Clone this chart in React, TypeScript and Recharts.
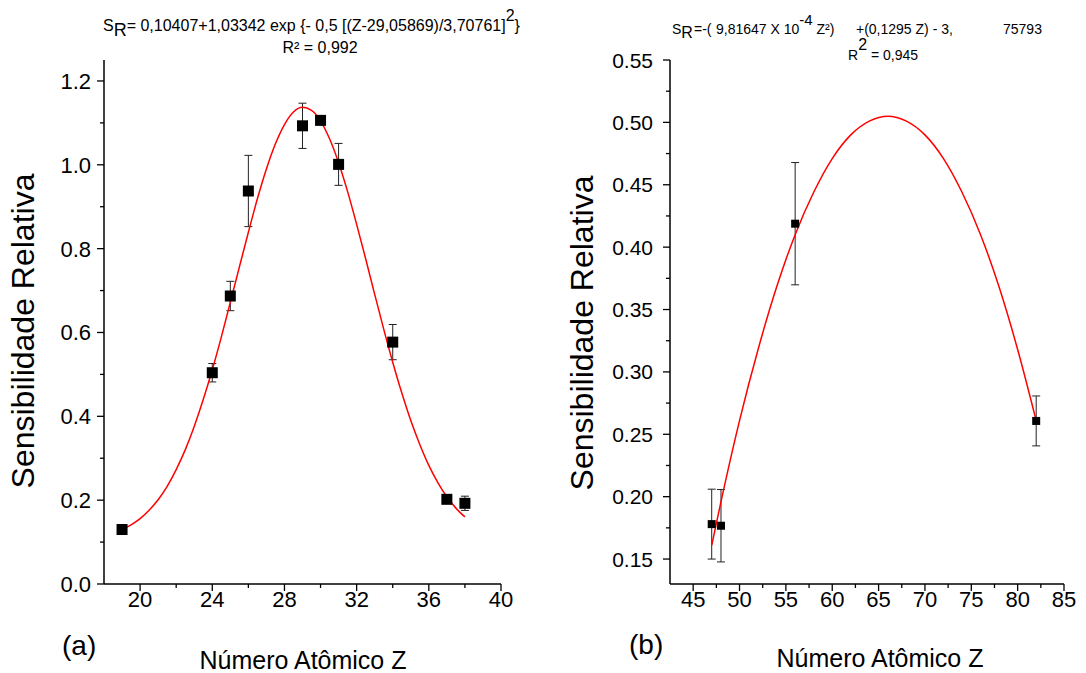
import { ComposedChart, Line, Scatter, ErrorBar, XAxis, YAxis } from "recharts"

// (a) measured points
const zA = [19, 24, 25, 26, 29, 30, 31, 34, 37, 38]
const srA = [0.13, 0.504, 0.687, 0.9375, 1.093, 1.106, 1.001, 0.577, 0.202, 0.1925]
const errA = [0.005, 0.022, 0.035, 0.085, 0.054, 0.01, 0.05, 0.042, 0.005, 0.017]

// (a) fitted gaussian
const fitZA = [19, 19.5, 20, 20.5, 21, 21.5, 22, 22.5, 23, 23.5, 24, 24.5, 25, 25.5, 26, 26.5, 27, 27.5, 28, 28.5, 29, 29.5, 30, 30.5, 31, 31.5, 32, 32.5, 33, 33.5, 34, 34.5, 35, 35.5, 36, 36.5, 37, 37.5, 38]
const fitSA = [0.13, 0.141, 0.156, 0.176, 0.201, 0.233, 0.273, 0.32, 0.376, 0.44, 0.511, 0.589, 0.672, 0.756, 0.839, 0.919, 0.99, 1.05, 1.096, 1.126, 1.137, 1.13, 1.105, 1.062, 1.005, 0.936, 0.858, 0.776, 0.691, 0.608, 0.529, 0.456, 0.39, 0.333, 0.283, 0.242, 0.208, 0.181, 0.16]

// (b) measured points
const zB = [47, 48, 56, 82]
const srB = [0.178, 0.1767, 0.4188, 0.2607]
const errB = [0.028, 0.029, 0.049, 0.02]

// (b) fitted parabola
const fitZB = [47, 48, 50, 52, 54, 56, 58, 60, 62, 64, 66, 68, 70, 72, 74, 76, 78, 80, 82]
const fitSB = [0.161, 0.196, 0.261, 0.318, 0.368, 0.41, 0.444, 0.471, 0.49, 0.501, 0.505, 0.501, 0.49, 0.471, 0.444, 0.41, 0.368, 0.318, 0.261]

// ticks
const xMajorA = [20, 24, 28, 32, 36, 40]
const xMinorA = [22, 26, 30, 34, 38]
const yMajorA = [0, 0.2, 0.4, 0.6, 0.8, 1.0, 1.2]
const yMinorA = [0.1, 0.3, 0.5, 0.7, 0.9, 1.1]
const xMajorB = [45, 50, 55, 60, 65, 70, 75, 80, 85]
const xMinorB = [47.5, 52.5, 57.5, 62.5, 67.5, 72.5, 77.5, 82.5]
const yMajorB = [0.15, 0.2, 0.25, 0.3, 0.35, 0.4, 0.45, 0.5, 0.55]
const yMinorB = [0.175, 0.225, 0.275, 0.325, 0.375, 0.425, 0.475, 0.525]

const FONT = '"Liberation Sans", Arial, sans-serif'

const pointsA = zA.map((z, i) => ({ z, s: srA[i], err: errA[i] }))
const curveA = fitZA.map((z, i) => ({ z, s: fitSA[i] }))
const pointsB = zB.map((z, i) => ({ z, s: srB[i], err: errB[i] }))
const curveB = fitZB.map((z, i) => ({ z, s: fitSB[i] }))

const bottomTick = (majors: number[], size: number) => (props: any) => {
  const { x, y, payload } = props
  const major = majors.includes(payload.value)
  return (
    <g>
      <line x1={x} x2={x} y1={y} y2={y + (major ? 7 : 4)} stroke="#000" strokeWidth={1.3} />
      {major && (
        <text x={x} y={y + 23} textAnchor="middle" fontSize={size} fill="#000" fontFamily={FONT}>
          {payload.value}
        </text>
      )}
    </g>
  )
}

const leftTick = (majors: number[], size: number, gap: number, digits: number) => (props: any) => {
  const { x, y, payload } = props
  const major = majors.includes(payload.value)
  return (
    <g>
      <line x1={x} x2={x - (major ? 7 : 4)} y1={y} y2={y} stroke="#000" strokeWidth={1.3} />
      {major && (
        <text x={x - gap} y={y} dy="0.36em" textAnchor="end" fontSize={size} fill="#000" fontFamily={FONT}>
          {payload.value.toFixed(digits)}
        </text>
      )}
    </g>
  )
}

const square = (half: number) => (p: any) => (
  <rect x={p.cx - half} y={p.cy - half} width={half * 2} height={half * 2} fill="#000" />
)

export default function App() {
  return (
    <div style={{ position: "absolute", left: 0, top: 0, width: 1086, height: 673, background: "#fff", fontFamily: FONT }}>
      <div style={{ position: "absolute", left: 0, top: 0 }}>
        <ComposedChart width={520} height={673} margin={{ top: 60, right: 19, bottom: 59, left: 0 }}>
          <XAxis
            dataKey="z"
            type="number"
            domain={[18, 40]}
            allowDataOverflow
            ticks={[...xMajorA, ...xMinorA]}
            interval={0}
            height={30}
            tickSize={0}
            tickMargin={0}
            tickLine={false}
            axisLine={{ stroke: "#000", strokeWidth: 1.5 }}
            tick={bottomTick(xMajorA, 22)}
          />
          <YAxis
            dataKey="s"
            type="number"
            domain={[0, 1.25]}
            allowDataOverflow
            ticks={[...yMajorA, ...yMinorA]}
            interval={0}
            width={104}
            tickSize={0}
            tickMargin={0}
            tickLine={false}
            axisLine={{ stroke: "#000", strokeWidth: 1.5 }}
            tick={leftTick(yMajorA, 22, 13, 1)}
          />
          <Scatter data={pointsA} dataKey="s" shape={square(5.5)} isAnimationActive={false}>
            <ErrorBar dataKey="err" direction="y" width={4} stroke="#222" strokeWidth={1} isAnimationActive={false} />
          </Scatter>
          <Line data={curveA} dataKey="s" type="monotone" stroke="#ff0000" strokeWidth={1.5} dot={false} isAnimationActive={false} />
        </ComposedChart>
      </div>

      <div style={{ position: "absolute", left: 560, top: 0 }}>
        <ComposedChart width={526} height={673} margin={{ top: 60, right: 22, bottom: 59, left: 0 }}>
          <XAxis
            dataKey="z"
            type="number"
            domain={[42.5, 85]}
            allowDataOverflow
            ticks={[...xMajorB, ...xMinorB]}
            interval={0}
            height={30}
            tickSize={0}
            tickMargin={0}
            tickLine={false}
            axisLine={{ stroke: "#000", strokeWidth: 1.5 }}
            tick={bottomTick(xMajorB, 22)}
          />
          <YAxis
            dataKey="s"
            type="number"
            domain={[0.13, 0.55]}
            allowDataOverflow
            ticks={[...yMajorB, ...yMinorB]}
            interval={0}
            width={110}
            tickSize={0}
            tickMargin={0}
            tickLine={false}
            axisLine={{ stroke: "#000", strokeWidth: 1.5 }}
            tick={leftTick(yMajorB, 21, 17, 2)}
          />
          <Scatter data={pointsB} dataKey="s" shape={square(4)} isAnimationActive={false}>
            <ErrorBar dataKey="err" direction="y" width={4} stroke="#222" strokeWidth={1} isAnimationActive={false} />
          </Scatter>
          <Line data={curveB} dataKey="s" type="monotone" stroke="#ff0000" strokeWidth={1.5} dot={false} isAnimationActive={false} />
        </ComposedChart>
      </div>

      <svg width={1086} height={673} style={{ position: "absolute", left: 0, top: 0, pointerEvents: "none" }} fontFamily={FONT} fill="#000">
        {/* (a) titles */}
        <text x={103} y={31} fontSize={16} xmlSpace="preserve">
          S<tspan fontSize={18} dy={5}>R</tspan>
          <tspan dy={-5}>= 0,10407+1,03342 exp {"{"}- 0,5 [(Z-29,05869)/3,70761]</tspan>
          <tspan fontSize={16} dy={-10}>2</tspan>
          <tspan dy={10}>{"}"}</tspan>
        </text>
        <text x={320} y={53} fontSize={16} textAnchor="middle">R² = 0,992</text>

        {/* (b) titles */}
        <text x={672} y={34} fontSize={14} xmlSpace="preserve">
          S<tspan fontSize={16} dy={4}>R</tspan>
          <tspan x={694} dy={-4}>=-(</tspan>
          <tspan x={716}>9,81647 X 10</tspan>
          <tspan fontSize={15} dy={-9}>-4</tspan>
          <tspan dy={9}> Z²)</tspan>
          <tspan x={856}>+(0,1295 Z) - 3,</tspan>
          <tspan x={1003}>75793</tspan>
        </text>
        <text x={848} y={60} fontSize={14}>
          R<tspan fontSize={16} dy={-10}>2</tspan>
          <tspan dy={10}> = 0,945</tspan>
        </text>

        {/* axis titles */}
        <text transform="translate(34,331) rotate(-90)" textAnchor="middle" fontSize={32}>Sensibilidade Relativa</text>
        <text transform="translate(593,333) rotate(-90)" textAnchor="middle" fontSize={32}>Sensibilidade Relativa</text>
        <text x={303} y={669} textAnchor="middle" fontSize={25}>Número Atômico Z</text>
        <text x={880} y={667} textAnchor="middle" fontSize={25}>Número Atômico Z</text>
        <text x={62} y={655} fontSize={28}>(a)</text>
        <text x={629} y={654} fontSize={28}>(b)</text>
      </svg>
    </div>
  )
}
